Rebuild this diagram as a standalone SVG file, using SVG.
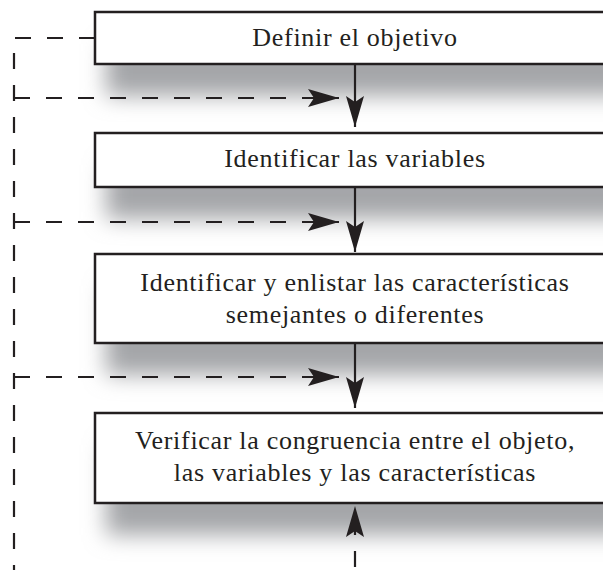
<svg xmlns="http://www.w3.org/2000/svg" width="603" height="570" viewBox="0 0 603 570">
  <style>
    .box { fill: #ffffff; stroke: #231f20; stroke-width: 2.5; }
    .shadow { fill: #a4a6a9; filter: url(#blur); }
    .label { font-family: "Liberation Serif", "Times New Roman", serif; font-size: 26px; letter-spacing: 0.7px; fill: #231f20; text-anchor: middle; }
    .solid { fill: none; stroke: #231f20; stroke-width: 2.2; }
    .dash { fill: none; stroke: #231f20; stroke-width: 2.2; stroke-dasharray: 16 16; }
  </style>
  <defs>
    <filter id="blur" x="-20%" y="-50%" width="140%" height="200%">
      <feGaussianBlur stdDeviation="11"/>
    </filter>
    <marker id="head" markerUnits="userSpaceOnUse" markerWidth="40" markerHeight="40" refX="0" refY="0" orient="auto" overflow="visible" viewBox="-40 -20 40 40">
      <path d="M0,0 L-31,-9 L-25,0 L-31,9 Z" fill="#231f20"/>
    </marker>
  </defs>

  <g id="shadows">
    <rect class="shadow" x="106" y="44" width="530" height="52"/>
    <rect class="shadow" x="106" y="165" width="530" height="54"/>
    <rect class="shadow" x="106" y="286" width="530" height="89"/>
    <rect class="shadow" x="106" y="445" width="530" height="90"/>
  </g>

  <g id="connectors">
    <path class="dash" d="M95,38 L14,38 L14,570"/>
    <path class="dash" d="M14,98 L339,98" marker-end="url(#head)"/>
    <path class="dash" d="M14,222 L339,222" marker-end="url(#head)"/>
    <path class="dash" d="M14,377 L339,377" marker-end="url(#head)"/>
    <path class="solid" d="M355,65 L355,127" marker-end="url(#head)"/>
    <path class="solid" d="M355,188 L355,252" marker-end="url(#head)"/>
    <path class="solid" d="M355,344 L355,408" marker-end="url(#head)"/>
    <path class="dash" d="M355,567 L355,506" marker-end="url(#head)"/>
  </g>

  <g id="node1">
    <rect class="box" x="95" y="12" width="530" height="52"/>
    <text class="label" x="355" y="46">Definir el objetivo</text>
  </g>
  <g id="node2">
    <rect class="box" x="95" y="133" width="530" height="54"/>
    <text class="label" x="355" y="167">Identificar las variables</text>
  </g>
  <g id="node3">
    <rect class="box" x="95" y="254" width="530" height="89"/>
    <text class="label" x="355" y="291">Identificar y enlistar las características</text>
    <text class="label" x="355" y="323">semejantes o diferentes</text>
  </g>
  <g id="node4">
    <rect class="box" x="95" y="413" width="530" height="90"/>
    <text class="label" x="355" y="449">Verificar la congruencia entre el objeto,</text>
    <text class="label" x="355" y="481">las variables y las características</text>
  </g>
</svg>
